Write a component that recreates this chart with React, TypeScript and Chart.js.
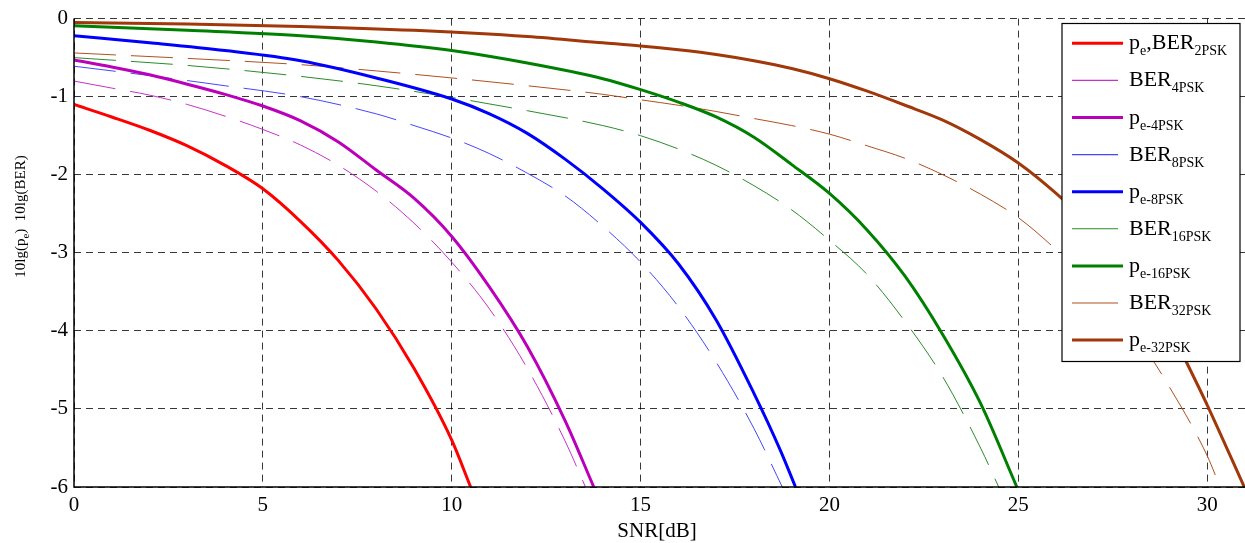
import React, { useEffect, useRef } from "react";
import { Chart, registerables } from "chart.js";

Chart.register(...registerables);

const W = 1245;
const H = 543;

// axis ticks
const xTickValues = [0, 5, 10, 15, 20, 25, 30];
const yTickValues = [0, -1, -2, -3, -4, -5, -6];
const X_MIN = 0;
const X_MAX = 31;
const Y_MIN = -6;
const Y_MAX = 0;

// p_e, BER 2PSK
const snr2 = [0, 1, 2, 3, 4, 5, 6, 7, 8, 9, 10, 10.5];
const pe2 = [-1.1, -1.26, -1.43, -1.63, -1.88, -2.18, -2.6, -3.1, -3.72, -4.48, -5.4, -6.0];

// BER 4PSK
const snrBer4 = [0, 1, 2, 3, 4, 5, 6, 7, 8, 9, 10, 11, 12, 13, 13.54];
const ber4 = [-0.8, -0.89, -0.98, -1.1, -1.25, -1.42, -1.62, -1.88, -2.21, -2.62, -3.12, -3.72, -4.48, -5.41, -6.0];

// p_e 4PSK
const snrPe4 = [0, 1, 2, 3, 4, 5, 6, 7, 8, 9, 10, 11, 12, 13, 13.76];
const pe4 = [-0.53, -0.62, -0.72, -0.84, -0.97, -1.12, -1.31, -1.58, -1.94, -2.3, -2.79, -3.44, -4.2, -5.15, -6.0];

// BER 8PSK
const snrBer8 = [0, 2, 4, 6, 8, 9, 10, 11, 12, 13, 14, 15, 16, 17, 18, 18.75];
const ber8 = [-0.61, -0.73, -0.86, -1.0, -1.22, -1.37, -1.53, -1.73, -1.98, -2.27, -2.66, -3.12, -3.69, -4.4, -5.25, -6.0];

// p_e 8PSK
const snrPe8 = [0, 2, 4, 6, 8, 10, 11, 12, 13, 14, 15, 16, 17, 18, 18.7, 19.1];
const pe8 = [-0.22, -0.31, -0.41, -0.54, -0.76, -1.03, -1.22, -1.47, -1.8, -2.18, -2.61, -3.14, -3.86, -4.8, -5.53, -6.0];

// BER 16PSK
const snrBer16 = [0, 3, 6, 8, 10, 12, 14, 15, 16, 17, 18, 19, 20, 21, 22, 23, 24, 24.48];
const ber16 = [-0.5, -0.6, -0.74, -0.86, -1.01, -1.18, -1.37, -1.5, -1.67, -1.88, -2.14, -2.45, -2.84, -3.28, -3.88, -4.59, -5.5, -6.0];

// p_e 16PSK
const snrPe16 = [0, 3, 6, 8, 10, 12, 14, 15, 16, 17, 18, 19, 20, 21, 22, 23, 24, 24.96];
const pe16 = [-0.09, -0.15, -0.22, -0.3, -0.41, -0.57, -0.77, -0.91, -1.07, -1.26, -1.52, -1.87, -2.24, -2.71, -3.3, -4.05, -4.93, -6.0];

// BER 32PSK
const snrBer32 = [0, 3, 6, 8, 10, 12, 14, 15, 16, 17, 18, 19, 20, 21, 22, 23, 24, 25, 26, 27, 28, 29, 30, 30.34];
const ber32 = [-0.44, -0.51, -0.59, -0.67, -0.76, -0.86, -0.97, -1.04, -1.11, -1.19, -1.28, -1.37, -1.48, -1.63, -1.79, -2.0, -2.25, -2.55, -2.96, -3.43, -3.98, -4.72, -5.6, -6.0];

// p_e 32PSK
const snrPe32 = [0, 3, 6, 9, 12, 14, 15, 16, 17, 18, 19, 20, 21, 22, 23, 24, 25, 26, 27, 28, 29, 29.5, 30, 30.98];
const pe32 = [-0.05, -0.07, -0.1, -0.15, -0.23, -0.31, -0.35, -0.4, -0.46, -0.54, -0.64, -0.77, -0.93, -1.11, -1.3, -1.55, -1.85, -2.24, -2.7, -3.28, -3.97, -4.45, -4.95, -6.0];

// legend labels: [text, isSubscript]
type Seg = [string, boolean];
const label2 = [["p", false], ["e", true], [",BER", false], ["2PSK", true]] as Seg[];
const labelBer4 = [["BER", false], ["4PSK", true]] as Seg[];
const labelPe4 = [["p", false], ["e-4PSK", true]] as Seg[];
const labelBer8 = [["BER", false], ["8PSK", true]] as Seg[];
const labelPe8 = [["p", false], ["e-8PSK", true]] as Seg[];
const labelBer16 = [["BER", false], ["16PSK", true]] as Seg[];
const labelPe16 = [["p", false], ["e-16PSK", true]] as Seg[];
const labelBer32 = [["BER", false], ["32PSK", true]] as Seg[];
const labelPe32 = [["p", false], ["e-32PSK", true]] as Seg[];

const yTitle = [["10lg(p", false], ["e", true], [")  10lg(BER)", false]] as Seg[];
const xTitle = "SNR[dB]";

const SERIF = "'Liberation Serif', 'Times New Roman', serif";

const seriesDefs = [
  { xs: snr2, ys: pe2, color: "#ff0000", thick: true, label: label2 },
  { xs: snrBer4, ys: ber4, color: "#c832c8", thick: false, label: labelBer4 },
  { xs: snrPe4, ys: pe4, color: "#bb00bb", thick: true, label: labelPe4 },
  { xs: snrBer8, ys: ber8, color: "#4646ff", thick: false, label: labelBer8 },
  { xs: snrPe8, ys: pe8, color: "#0000ff", thick: true, label: labelPe8 },
  { xs: snrBer16, ys: ber16, color: "#2a8c2a", thick: false, label: labelBer16 },
  { xs: snrPe16, ys: pe16, color: "#008000", thick: true, label: labelPe16 },
  { xs: snrBer32, ys: ber32, color: "#b0501e", thick: false, label: labelBer32 },
  { xs: snrPe32, ys: pe32, color: "#a0380a", thick: true, label: labelPe32 },
];

function segWidth(ctx: CanvasRenderingContext2D, segs: Seg[], mainPx: number, subPx: number) {
  let w = 0;
  for (const [t, sub] of segs) {
    ctx.font = `${sub ? subPx : mainPx}px ${SERIF}`;
    w += ctx.measureText(t).width;
  }
  return w;
}

function drawSegs(
  ctx: CanvasRenderingContext2D,
  segs: Seg[],
  x: number,
  baseline: number,
  mainPx: number,
  subPx: number,
  subOffset: number
) {
  let cx = x;
  ctx.textBaseline = "alphabetic";
  ctx.textAlign = "left";
  for (const [t, sub] of segs) {
    ctx.font = `${sub ? subPx : mainPx}px ${SERIF}`;
    ctx.fillText(t, cx, baseline + (sub ? subOffset : 0));
    cx += ctx.measureText(t).width;
  }
}

const overlayPlugin = {
  id: "overlay",
  afterDraw(chart: any) {
    const ctx: CanvasRenderingContext2D = chart.ctx;
    const area = chart.chartArea;
    ctx.save();

    // solid axis lines (left and bottom)
    ctx.strokeStyle = "#000";
    ctx.lineWidth = 1.5;
    ctx.setLineDash([]);
    ctx.beginPath();
    ctx.moveTo(area.left, area.top);
    ctx.lineTo(area.left, area.bottom);
    ctx.lineTo(W, area.bottom);
    ctx.stroke();

    ctx.fillStyle = "#000";
    // y-axis title (rotated)
    ctx.save();
    ctx.translate(25, 216.5);
    ctx.rotate(-Math.PI / 2);
    const yw = segWidth(ctx, yTitle, 15, 11);
    drawSegs(ctx, yTitle, -yw / 2, 0, 15, 11, 4);
    ctx.restore();

    // x-axis title
    ctx.font = `21px ${SERIF}`;
    ctx.textAlign = "center";
    ctx.textBaseline = "alphabetic";
    ctx.fillText(xTitle, 657, 537);

    // legend
    const bx = 1062;
    const by = 23.5;
    const bw = 178;
    const bh = 338;
    ctx.fillStyle = "#fff";
    ctx.fillRect(bx, by, bw, bh);
    ctx.strokeStyle = "#000";
    ctx.lineWidth = 1.2;
    ctx.strokeRect(bx, by, bw, bh);

    seriesDefs.forEach((s, i) => {
      const ly = 43.3 + i * 37.1;
      ctx.beginPath();
      ctx.strokeStyle = s.color;
      ctx.lineWidth = s.thick ? 3 : 1.1;
      ctx.moveTo(1072, ly);
      ctx.lineTo(s.thick ? 1123 : 1118, ly);
      ctx.stroke();
      ctx.fillStyle = "#000";
      drawSegs(ctx, s.label, 1129, ly + 6, 22, 14, 6);
    });
    ctx.restore();
  },
};

export default function App() {
  const canvasRef = useRef<HTMLCanvasElement | null>(null);

  useEffect(() => {
    const canvas = canvasRef.current;
    if (!canvas) return;

    const datasets = seriesDefs.map((s) => ({
      label: s.label.map((p) => p[0]).join(""),
      data: s.xs.map((x, i) => ({ x, y: s.ys[i] })),
      borderColor: s.color,
      backgroundColor: s.color,
      borderWidth: s.thick ? 3 : 1,
      borderDash: s.thick ? [] : [42, 15],
      pointRadius: 0,
      fill: false,
      cubicInterpolationMode: "monotone" as const,
    }));

    const gridCommon = {
      color: "rgba(0,0,0,0.78)",
      lineWidth: 1,
      drawTicks: false,
    };

    const chart = new Chart(canvas, {
      type: "line",
      data: { datasets },
      options: {
        animation: false,
        responsive: false,
        maintainAspectRatio: false,
        devicePixelRatio: 1,
        layout: { padding: { left: 0, top: 15, right: -3, bottom: 0 } },
        plugins: {
          legend: { display: false },
          tooltip: { enabled: false },
          title: { display: false },
        },
        scales: {
          x: {
            type: "linear",
            min: X_MIN,
            max: X_MAX,
            afterFit: (scale: any) => {
              scale.height = 56;
            },
            afterBuildTicks: (scale: any) => {
              scale.ticks = xTickValues.map((v) => ({ value: v }));
            },
            grid: gridCommon,
            border: { display: false, color: "#000", width: 1.5, dash: [7, 5] },
            ticks: {
              color: "#000",
              font: { family: SERIF, size: 21 },
              padding: 6,
              maxRotation: 0,
              callback: (v: any) => String(v),
            },
          },
          y: {
            type: "linear",
            min: Y_MIN,
            max: Y_MAX,
            afterFit: (scale: any) => {
              scale.width = 74;
            },
            afterBuildTicks: (scale: any) => {
              scale.ticks = yTickValues.map((v) => ({ value: v }));
            },
            grid: gridCommon,
            border: { display: false, color: "#000", width: 1.5, dash: [7, 5] },
            ticks: {
              color: "#000",
              font: { family: SERIF, size: 21 },
              padding: 6,
              callback: (v: any) => String(v),
            },
          },
        },
      },
      plugins: [overlayPlugin],
    });

    return () => chart.destroy();
  }, []);

  return (
    <div style={{ position: "fixed", left: 0, top: 0, width: W, height: H, background: "#fff" }}>
      <canvas ref={canvasRef} width={W} height={H} style={{ width: W, height: H, display: "block" }} />
    </div>
  );
}
